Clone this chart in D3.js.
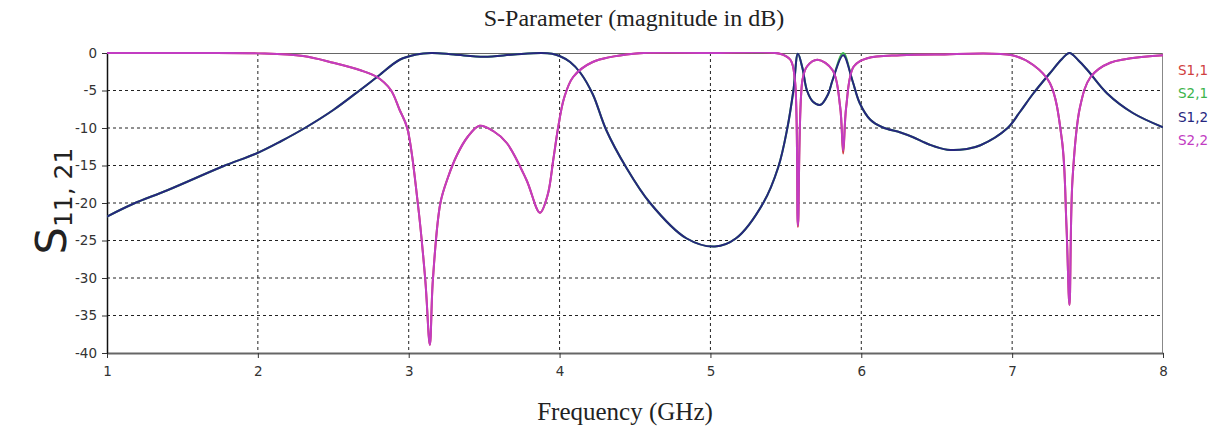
<!DOCTYPE html>
<html>
<head>
<meta charset="utf-8">
<script src="https://cdn.jsdelivr.net/npm/d3@7"></script>
<style>
  body { margin: 0; background: #fff; }
</style>
</head>
<body>
<svg id="sparam-svg" width="1220" height="432"></svg>
<script>
// frequency (GHz) / magnitude (dB)
let s12Freq = [1.00, 1.175, 1.40, 1.77, 1.99, 2.15, 2.32, 2.50, 2.68, 2.79, 2.94, 3.05, 3.15, 3.30, 3.50, 3.70, 3.88, 3.95, 4.00, 4.07, 4.14, 4.22, 4.31, 4.44, 4.60, 4.84, 5.03, 5.17, 5.35, 5.45, 5.51, 5.55, 5.58, 5.61, 5.64, 5.68, 5.73, 5.78, 5.81, 5.88, 5.94, 5.99, 6.06, 6.14, 6.26, 6.34, 6.45, 6.57, 6.70, 6.79, 6.97, 7.05, 7.14, 7.25, 7.33, 7.38, 7.44, 7.50, 7.63, 7.80, 8.00];
let s12dB   = [-21.8, -20.1, -18.3, -15.1, -13.4, -11.8, -9.9, -7.6, -4.9, -3.2, -0.9, -0.2, 0.0, -0.2, -0.5, -0.2, 0.0, -0.1, -0.4, -1.2, -2.7, -5.5, -10.3, -15.2, -20.0, -24.7, -25.8, -24.7, -20.0, -15.2, -10.0, -5.0, -0.1, -2.0, -5.0, -6.5, -6.9, -5.5, -3.6, -0.3, -3.6, -6.7, -8.9, -9.9, -10.6, -11.2, -12.2, -12.9, -12.8, -12.3, -10.0, -7.9, -5.4, -2.7, -0.8, 0.0, -1.0, -2.3, -5.4, -8.0, -9.9];
let s21dB   = [-21.8, -20.1, -18.3, -15.1, -13.4, -11.8, -9.9, -7.6, -4.9, -3.2, -0.9, -0.2, 0.0, -0.2, -0.5, -0.2, 0.0, -0.1, -0.4, -1.2, -2.7, -5.5, -10.3, -15.2, -20.0, -24.7, -25.8, -24.7, -20.0, -15.2, -10.0, -5.0, -0.1, -2.0, -5.0, -6.5, -6.9, -5.5, -3.6, 0.0, -3.6, -6.7, -8.9, -9.9, -10.6, -11.2, -12.2, -12.9, -12.8, -12.3, -10.0, -7.9, -5.4, -2.7, -0.8, 0.0, -1.0, -2.3, -5.4, -8.0, -9.9];

let s22Freq = [1.00, 1.50, 2.00, 2.30, 2.50, 2.68, 2.79, 2.88, 2.94, 2.99, 3.06, 3.11, 3.14, 3.16, 3.21, 3.26, 3.32, 3.39, 3.47, 3.56, 3.65, 3.78, 3.87, 3.92, 3.96, 3.99, 4.03, 4.09, 4.22, 4.49, 5.00, 5.46, 5.53, 5.56, 5.58, 5.61, 5.64, 5.71, 5.81, 5.86, 5.88, 5.90, 5.95, 6.04, 6.26, 6.50, 7.00, 7.14, 7.25, 7.33, 7.36, 7.38, 7.40, 7.45, 7.52, 7.65, 8.00];
let s22dB   = [0.0, 0.0, -0.05, -0.4, -1.3, -2.3, -3.2, -4.9, -7.6, -10.0, -20.0, -30.3, -38.9, -30.3, -20.0, -16.6, -13.6, -11.2, -9.7, -10.4, -12.0, -16.9, -21.3, -19.0, -14.0, -10.0, -6.0, -3.2, -1.2, -0.1, 0.0, -0.1, -0.9, -3.6, -23.0, -3.6, -1.8, -0.9, -2.3, -7.2, -13.0, -7.2, -1.8, -0.7, -0.3, -0.2, -0.3, -1.6, -4.0, -11.6, -23.0, -33.6, -16.9, -7.2, -3.2, -1.3, -0.3];
let s11dB   = [0.0, 0.0, -0.05, -0.4, -1.3, -2.3, -3.2, -4.9, -7.6, -10.0, -20.0, -30.3, -38.9, -30.3, -20.0, -16.6, -13.6, -11.2, -9.7, -10.4, -12.0, -16.9, -21.3, -19.0, -14.0, -10.0, -6.0, -3.2, -1.2, -0.1, 0.0, -0.1, -0.9, -3.6, -23.2, -3.6, -1.8, -0.9, -2.3, -7.2, -13.4, -7.2, -1.8, -0.7, -0.3, -0.2, -0.3, -1.6, -4.0, -11.6, -23.0, -33.6, -16.9, -7.2, -3.2, -1.3, -0.3];

let xTicks = [1, 2, 3, 4, 5, 6, 7, 8];
let yTicks = [0, -5, -10, -15, -20, -25, -30, -35, -40];
let legendNames = ['S1,1', 'S2,1', 'S1,2', 'S2,2'];
let legendColors = ['#d04040', '#3cb44b', '#26267e', '#c23cc2'];

let svg = d3.select('#sparam-svg');
let svgWidth = +svg.attr('width');
let svgHeight = +svg.attr('height');
let padding = {t: 53, r: 57, b: 79, l: 107};
let chartWidth = svgWidth - padding.l - padding.r;
let chartHeight = svgHeight - padding.t - padding.b;

let xScale = d3.scaleLinear().domain([1, 8]).range([0, chartWidth]);
let yScale = d3.scaleLinear().domain([0, -40]).range([0, chartHeight]);

let chartG = svg.append('g')
    .attr('transform', `translate(${padding.l}, ${padding.t})`);

svg.append('clipPath').attr('id', 'plot-clip')
    .append('rect')
    .attr('x', 0).attr('y', -1)
    .attr('width', chartWidth).attr('height', chartHeight + 1);

// grid (dotted)
chartG.append('g').selectAll('line')
    .data(xTicks.slice(1, -1))
    .join('line')
    .attr('x1', d => xScale(d)).attr('x2', d => xScale(d))
    .attr('y1', 0).attr('y2', chartHeight)
    .attr('stroke', '#222').attr('stroke-width', 1)
    .attr('stroke-dasharray', '3,3');
chartG.append('g').selectAll('line')
    .data(yTicks.slice(1, -1))
    .join('line')
    .attr('x1', 0).attr('x2', chartWidth)
    .attr('y1', d => yScale(d)).attr('y2', d => yScale(d))
    .attr('stroke', '#222').attr('stroke-width', 1)
    .attr('stroke-dasharray', '3,3');

// frame: top and right in gray
chartG.append('line')
    .attr('x1', 0).attr('x2', chartWidth).attr('y1', 0.5).attr('y2', 0.5)
    .attr('stroke', '#666');
chartG.append('line')
    .attr('x1', chartWidth - 0.5).attr('x2', chartWidth - 0.5).attr('y1', 0).attr('y2', chartHeight)
    .attr('stroke', '#888');

// axes
let xAxis = d3.axisBottom(xScale).tickValues(xTicks).tickFormat(d3.format('d'))
    .tickSizeInner(5).tickSizeOuter(0).tickPadding(8);
let xAxisG = chartG.append('g')
    .attr('class', 'x axis')
    .attr('transform', `translate(0, ${chartHeight})`)
    .call(xAxis);
xAxisG.select('.domain').attr('stroke', '#666').attr('stroke-width', 2);
xAxisG.selectAll('.tick line').attr('stroke', '#333');

let yAxis = d3.axisLeft(yScale).tickValues(yTicks).tickFormat(d3.format('d'))
    .tickSizeInner(5).tickSizeOuter(0).tickPadding(5);
let yAxisG = chartG.append('g')
    .attr('class', 'y axis')
    .call(yAxis);
yAxisG.select('.domain').attr('stroke', '#111').attr('stroke-width', 1.5);
yAxisG.selectAll('.tick line').attr('stroke', '#333');
yAxisG.selectAll('.tick text').text(d => d);

svg.selectAll('.axis text')
    .style('font-family', '"DejaVu Sans", sans-serif')
    .style('font-size', '13.5px')
    .attr('fill', '#333');

// curves
let lineFun = d3.line()
    .x(d => xScale(d[0]))
    .y(d => yScale(d[1]))
    .curve(d3.curveCatmullRom.alpha(0.5));

let seriesList = [
    {freq: s22Freq, db: s11dB, color: legendColors[0]},
    {freq: s12Freq, db: s21dB, color: legendColors[1]},
    {freq: s12Freq, db: s12dB, color: legendColors[2]},
    {freq: s22Freq, db: s22dB, color: legendColors[3]}
];
let pathG = chartG.append('g').attr('clip-path', 'url(#plot-clip)');
seriesList.forEach(s => {
    pathG.append('path')
        .datum(s.freq.map((f, i) => [f, s.db[i]]))
        .attr('fill', 'none')
        .attr('stroke', s.color)
        .attr('stroke-width', 2)
        .attr('stroke-linejoin', 'round')
        .attr('d', lineFun);
});

// legend
let legendG = svg.append('g')
    .attr('transform', `translate(${padding.l + chartWidth + 15}, ${padding.t + 17})`);
legendG.selectAll('text')
    .data(legendNames)
    .join('text')
    .attr('x', 0)
    .attr('y', (d, i) => i * 23.5)
    .attr('dy', '0.35em')
    .attr('fill', (d, i) => legendColors[i])
    .style('font-family', '"DejaVu Sans", sans-serif')
    .style('font-size', '13.5px')
    .text(d => d);

// titles
svg.append('text')
    .attr('x', 634).attr('y', 26)
    .attr('text-anchor', 'middle')
    .style('font-family', '"Liberation Serif", serif')
    .style('font-size', '24px')
    .attr('fill', '#222')
    .text('S-Parameter (magnitude in dB)');

svg.append('text')
    .attr('x', 625).attr('y', 420)
    .attr('text-anchor', 'middle')
    .style('font-family', '"Liberation Serif", serif')
    .style('font-size', '25px')
    .attr('fill', '#222')
    .text('Frequency (GHz)');

let yTitle = svg.append('text')
    .attr('transform', `translate(66, 201) rotate(-90)`)
    .attr('text-anchor', 'middle')
    .style('font-family', '"DejaVu Sans", sans-serif')
    .attr('fill', '#222');
yTitle.append('tspan').style('font-size', '43px').text('S');
yTitle.append('tspan').style('font-size', '25px').attr('dy', 6).text('11, 21');
</script>
</body>
</html>
